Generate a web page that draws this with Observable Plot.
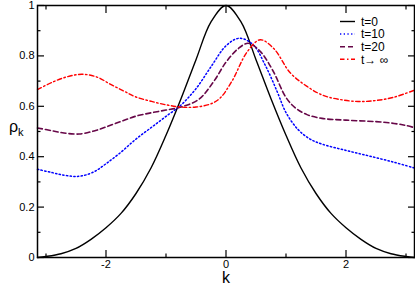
<!DOCTYPE html>
<html><head><meta charset="utf-8">
<script src="https://cdn.jsdelivr.net/npm/d3@7"></script>
<script src="https://cdn.jsdelivr.net/npm/@observablehq/plot@0.6"></script>
<style>html,body{margin:0;padding:0;background:#fff}</style>
</head><body><div id="chart"></div>
<script>
const PI = Math.PI;

// t = 0
const k0 = [-PI,-3.0,-2.75,-2.5,-2.25,-2.0,-1.75,-1.5,-1.25,-1.0,-0.75,-0.5,-0.25,0,0.25,0.5,0.75,1.0,1.25,1.5,1.75,2.0,2.25,2.5,2.75,3.0,PI];
const rho0 = [0,0.004,0.015,0.036,0.072,0.118,0.175,0.254,0.355,0.485,0.63,0.785,0.935,1.0,0.935,0.785,0.63,0.485,0.355,0.254,0.175,0.118,0.072,0.036,0.015,0.004,0];

// t = 10
const k10 = [-PI,-2.9,-2.75,-2.55,-2.4,-2.2,-2.0,-1.75,-1.5,-1.25,-1.0,-0.75,-0.5,-0.25,0,0.22,0.45,0.65,0.85,1.0,1.2,1.4,1.6,2.0,2.4,2.8,PI];
const rho10 = [0.35,0.337,0.329,0.322,0.324,0.34,0.372,0.418,0.47,0.515,0.56,0.605,0.67,0.757,0.84,0.87,0.845,0.765,0.66,0.575,0.508,0.47,0.45,0.425,0.402,0.378,0.355];

// t = 20
const k20 = [-PI,-2.9,-2.7,-2.45,-2.2,-2.0,-1.75,-1.5,-1.25,-1.0,-0.75,-0.45,-0.2,0,0.2,0.37,0.57,0.78,1.0,1.15,1.35,1.6,2.0,2.5,2.8,3.0,PI];
const rho20 = [0.514,0.503,0.494,0.49,0.502,0.518,0.54,0.561,0.574,0.585,0.597,0.628,0.70,0.775,0.828,0.85,0.818,0.742,0.635,0.595,0.567,0.552,0.545,0.539,0.532,0.524,0.515];

// t -> infinity
const kInf = [-PI,-2.9,-2.65,-2.4,-2.15,-1.93,-1.7,-1.5,-1.25,-1.0,-0.75,-0.5,-0.25,-0.1,0.1,0.35,0.57,0.8,1.07,1.35,1.62,1.9,2.2,2.5,2.8,PI];
const rhoInf = [0.666,0.695,0.717,0.727,0.716,0.688,0.66,0.637,0.62,0.606,0.597,0.597,0.61,0.632,0.70,0.815,0.864,0.828,0.733,0.679,0.643,0.627,0.619,0.623,0.636,0.664];

const yMajor = [0,0.2,0.4,0.6,0.8,1];
const yMinor = [0.1,0.3,0.5,0.7,0.9];
const xMajor = [-2,0,2];
const xMinor = [-3,-1,1,3];
const legendLabels = ["t=0","t=10","t=20","t\u2192 \u221e"];

const rows = (ks, vs) => ks.map((k, i) => ({k, v: vs[i]}));

const styles = [
  {stroke: "#000000", strokeWidth: 1.4, dash: null},
  {stroke: "#0000ff", strokeWidth: 1.5, dash: "1.3,2.4"},
  {stroke: "#670748", strokeWidth: 1.6, dash: "5,3"},
  {stroke: "#ff0000", strokeWidth: 1.4, dash: "4.5,2.5,1.5,2.5"}
];
const series = [rows(k0, rho0), rows(k10, rho10), rows(k20, rho20), rows(kInf, rhoInf)];

const tickStyle = {stroke: "#000", strokeWidth: 1.2, fill: "none"};
const fmt = d => String(d);
const FONT = "'Liberation Sans', Arial, sans-serif";

const plot = Plot.plot({
  width: 415, height: 285,
  marginLeft: 37, marginRight: 1, marginTop: 5, marginBottom: 28,
  style: {fontFamily: FONT, fontSize: "11px", background: "#fff", color: "#000"},
  x: {domain: [-PI, PI]},
  y: {domain: [0, 1]},
  marks: [
    ...series.map((s, i) => Plot.line(s, {x: "k", y: "v", stroke: styles[i].stroke, strokeWidth: styles[i].strokeWidth, strokeDasharray: styles[i].dash, curve: "catmull-rom"})),
    Plot.axisX(xMajor, {anchor: "bottom", tickSize: -7, ...tickStyle}),
    Plot.axisX(xMinor, {anchor: "bottom", tickSize: -3.5, ...tickStyle}),
    Plot.axisX(xMajor, {anchor: "top", tickSize: -7, ...tickStyle}),
    Plot.axisX(xMinor, {anchor: "top", tickSize: -3.5, ...tickStyle}),
    Plot.axisY(yMajor, {anchor: "left", tickSize: -7, ...tickStyle}),
    Plot.axisY(yMinor, {anchor: "left", tickSize: -3.5, ...tickStyle}),
    Plot.axisY(yMajor, {anchor: "right", tickSize: -7, ...tickStyle}),
    Plot.axisY(yMinor, {anchor: "right", tickSize: -3.5, ...tickStyle}),
    Plot.axisX(xMajor, {anchor: "bottom", tickSize: 0, tickPadding: 3, tickFormat: fmt, label: null, fontSize: 11}),
    Plot.axisY(yMajor, {anchor: "left", tickSize: 0, tickPadding: 3, tickFormat: fmt, label: null, fontSize: 11}),
    Plot.frame({stroke: "#000", strokeWidth: 1.5})
  ]
});

document.getElementById("chart").appendChild(plot);

const svg = d3.select(plot);
// axis titles
svg.append("text").attr("x", 226).attr("y", 283).attr("text-anchor", "middle")
  .attr("font-size", 16).attr("font-family", FONT).attr("fill", "#000").text("k");
const yt = svg.append("text").attr("x", 9).attr("y", 132).attr("text-anchor", "start")
  .attr("font-size", 16).attr("font-family", FONT).attr("fill", "#000");
yt.append("tspan").text("\u03c1");
yt.append("tspan").attr("font-size", 11).attr("dy", 4).text("k");

// legend
const lg = svg.append("g").attr("font-family", FONT).attr("font-size", 12).attr("text-anchor", "start");
legendLabels.forEach((lab, i) => {
  const y = 21.5 + i * 12.6;
  lg.append("line").attr("x1", 340).attr("x2", 355).attr("y1", y).attr("y2", y)
    .attr("stroke", styles[i].stroke).attr("stroke-width", styles[i].strokeWidth)
    .attr("stroke-dasharray", styles[i].dash);
  lg.append("text").attr("x", 361).attr("y", y + 4.2).attr("fill", "#000").text(lab);
});
</script>
</body></html>
